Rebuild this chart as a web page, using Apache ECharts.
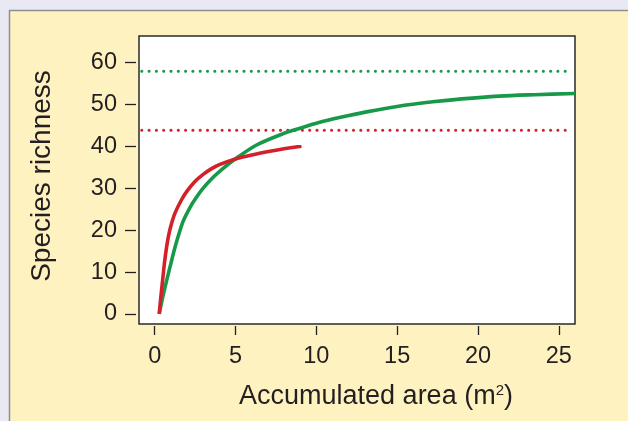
<!DOCTYPE html>
<html>
<head>
<meta charset="utf-8">
<script src="https://cdn.jsdelivr.net/npm/echarts@6/dist/echarts.min.js"></script>
<style>
html,body{margin:0;padding:0;background:#e9e9f3;}
#chart{width:628px;height:421px;}
</style>
</head>
<body>
<div id="chart"></div>
<script>
// ---- data ----
const xTicks = [0, 5, 10, 15, 20, 25];
const yTicks = [0, 10, 20, 30, 40, 50, 60];

const redX = [0.28, 0.38, 0.49, 0.6, 0.72, 0.85, 1.0, 1.25, 1.67, 2.0, 2.49, 3.0, 3.5, 4.0, 4.96, 6.0, 7.13, 8.0, 9.08];
const redY = [0, 4.0, 8.0, 12.0, 15.5, 18.5, 21.0, 24.0, 27.3, 29.3, 31.6, 33.3, 34.6, 35.6, 36.9, 37.9, 38.8, 39.4, 40.0];

const greenX = [0.28, 0.45, 0.78, 1.0, 1.25, 1.75, 2.2, 2.49, 3.0, 3.62, 4.2, 4.96, 6.3, 7.95, 9.0, 10.1, 11.5, 13.1, 15.0, 17.2, 19.0, 21.3, 23.5, 26.0];
const greenY = [0, 3.2, 8.6, 12.0, 15.8, 22.0, 25.5, 27.3, 30.0, 32.6, 34.6, 36.9, 40.3, 43.0, 44.3, 45.6, 46.9, 48.2, 49.5, 50.6, 51.3, 51.96, 52.3, 52.6];

const redAsymptote = 43.8;
const greenAsymptote = 57.9;
const asymptoteSpan = [-0.8, 25.8];

const xTitle = 'Accumulated area (m';
const yTitle = 'Species richness';

// ---- chart ----
const RED = '#d3212a';
const GREEN = '#18994a';
const INK = '#231f20';
const FONT = 'Liberation Sans, Arial, sans-serif';

const zip = (xs, ys) => xs.map((x, i) => [x, ys[i]]);

const chart = echarts.init(document.getElementById('chart'), null, {renderer: 'canvas'});
chart.setOption({
  backgroundColor: 'transparent',
  animation: false,
  graphic: [{
    type: 'rect', z: -10, silent: true,
    shape: {x: 9.5, y: 10.5, width: 700, height: 500},
    style: {fill: '#fef2c1', stroke: '#8f8f8f', lineWidth: 1.5}
  }],
  grid: {
    left: 139, right: 53, top: 36, bottom: 97,
    show: true, backgroundColor: '#ffffff', borderColor: '#2a2a2a', borderWidth: 1.5
  },
  xAxis: {
    type: 'value', min: -0.97, max: 26.0, offset: 2,
    axisLine: {show: false, onZero: false},
    splitLine: {show: false},
    axisTick: {show: true, inside: false, customValues: xTicks, length: 9, lineStyle: {color: INK, width: 1.3}},
    axisLabel: {customValues: xTicks, margin: 19, color: INK, fontSize: 23.5, fontFamily: FONT},
    name: '{a|' + xTitle + '}{s|2}{a|)}',
    nameLocation: 'middle', nameGap: 57,
    nameTextStyle: {
      padding: [0, 0, 0, 38],
      rich: {
        a: {fontSize: 27, fontFamily: FONT, color: INK},
        s: {fontSize: 15, fontFamily: FONT, color: INK, verticalAlign: 'top', padding: [0, 0, 13, 0]}
      }
    }
  },
  yAxis: {
    type: 'value', min: -2.4, max: 66.3, offset: 3,
    axisLine: {show: false, onZero: false},
    splitLine: {show: false},
    axisTick: {show: true, inside: false, customValues: yTicks, length: 11, lineStyle: {color: INK, width: 1.3}},
    axisLabel: {customValues: yTicks, margin: 19, color: INK, fontSize: 23.5, fontFamily: FONT},
    name: yTitle, nameLocation: 'middle', nameGap: 80,
    nameTextStyle: {fontSize: 28, fontFamily: FONT, color: INK, padding: [0, 0, 0, 8]}
  },
  series: [
    {
      type: 'line', data: zip(asymptoteSpan, [greenAsymptote, greenAsymptote]),
      symbol: 'none', lineStyle: {color: GREEN, width: 3, type: [0.1, 7.2], cap: 'round'}
    },
    {
      type: 'line', data: zip(asymptoteSpan, [redAsymptote, redAsymptote]),
      symbol: 'none', lineStyle: {color: RED, width: 3, type: [0.1, 7.2], cap: 'round'}
    },
    {
      type: 'line', data: zip(greenX, greenY), smooth: 0.3,
      symbol: 'none', lineStyle: {color: GREEN, width: 3.6}
    },
    {
      type: 'line', data: zip(redX, redY), smooth: 0.3,
      symbol: 'none', lineStyle: {color: RED, width: 3.6}
    }
  ]
});
</script>
</body>
</html>
